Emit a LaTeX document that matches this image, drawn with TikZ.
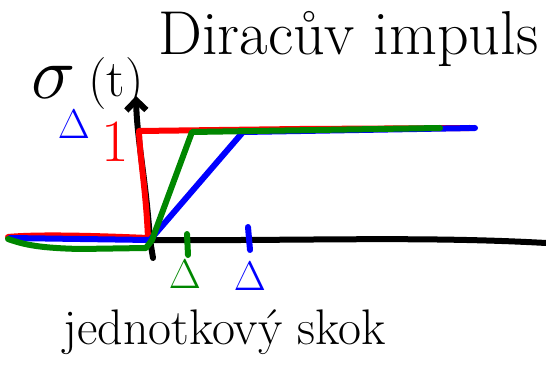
\documentclass[tikz,border=0pt]{standalone}
\usepackage{tikz}
\usetikzlibrary{arrows.meta}
\definecolor{penred}{RGB}{255,0,0}
\definecolor{pengreen}{RGB}{0,135,0}
\definecolor{penblue}{RGB}{0,0,255}

\begin{document}
\begin{tikzpicture}[
  x=0.5pt, y=-0.5pt,
  pen/.style = {line width=3pt, line cap=round, line join=round},
  axis/.style = {pen, black},
  lbl/.style = {inner sep=0pt, font=\fontsize{20}{20}\selectfont},
  big/.style = {inner sep=0pt, anchor=base west}
]
\useasboundingbox (0,0) rectangle (546,389);

% key points of the curves
\coordinate (O)  at (150,240);
\coordinate (r1) at (139,131);
\coordinate (g1) at (192,132);
\coordinate (b1) at (243,132);

% axes
\draw[axis] (O) .. controls (300,241) and (420,236) .. (546,243);
\draw[axis, -{Straight Barb[length=5pt, width=10pt]}]
  (153,258) -- (O) .. controls (146,180) and (137,140) .. (136,96);

% red, blue, green curves
\draw[pen, penred] (8,237) .. controls (40,234) and (100,236) .. (148,238)
  .. controls (146,190) and (140,160) .. (r1) -- (300,129) -- (470,128);
\draw[pen, penblue] (10,238) -- (O) -- (b1) -- (475,128);
\draw[pen, pengreen] (8,239) .. controls (25,245) and (40,248) .. (80,249)
  -- (146,248) -- (152,240) -- (g1) -- (440,128);

% ticks on the time axis
\draw[pen, pengreen] (187,234) -- (188,255);
\draw[pen, penblue]  (248,227) -- (250,250);

% labels
\node[inner sep=0pt, font=\fontsize{24}{24}\selectfont] (sig) at (54,82) {\scalebox{1.5}{$\sigma$}};
\node[lbl, text=penblue] (sigd) at (74,124) {$\Delta$};
\node[inner sep=0pt, font=\fontsize{26}{26}\selectfont] (t) at (116,84) {(t)};
\node[inner sep=0pt, text=penred, font=\fontsize{30}{30}\selectfont] (one) at (115,142) {1};
\node[lbl, text=pengreen] (dg) at (185,274) {$\Delta$};
\node[lbl, text=penblue]  (db) at (250,276) {$\Delta$};

\node[big, font=\fontsize{31}{31}\selectfont] (title) at (158,55) {Diracův impuls};
\node[big, font=\fontsize{25}{25}\selectfont] (step) at (63,345) {jednotkový skok};
\end{tikzpicture}
\end{document}
